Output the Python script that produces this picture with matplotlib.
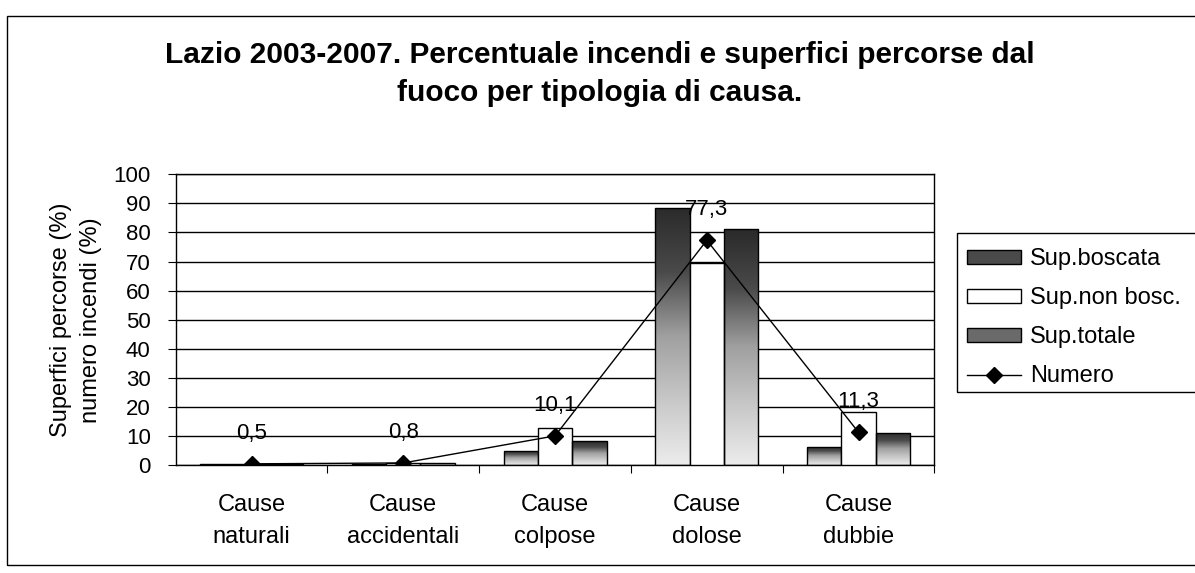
import matplotlib
matplotlib.use("Agg")
import matplotlib.pyplot as plt
import numpy as np
from matplotlib.colors import LinearSegmentedColormap

plt.rcParams['font.family'] = ['Liberation Sans', 'DejaVu Sans']

# data
categorie = ["Cause\nnaturali", "Cause\naccidentali", "Cause\ncolpose", "Cause\ndolose", "Cause\ndubbie"]
sup_boscata = [0.4, 0.6, 5.0, 88.5, 6.2]
sup_non_bosc = [0.5, 0.9, 12.8, 69.5, 18.4]
sup_totale = [0.4, 0.7, 8.2, 81.0, 11.1]
numero = [0.5, 0.8, 10.1, 77.3, 11.3]
etichette = ["0,5", "0,8", "10,1", "77,3", "11,3"]

fig = plt.figure(figsize=(11.95, 5.73), dpi=100)
ax = fig.add_axes([0.147, 0.188, 0.635, 0.508])

x = np.arange(len(categorie))
w = 0.226

grad = LinearSegmentedColormap.from_list("g", ["#ececec", "#c8c8c8", "#a0a0a0", "#4a4a4a", "#2a2a2a"])
img = np.linspace(0, 1, 256).reshape(-1, 1)

def bars_gradient(xpos, vals):
    bars = ax.bar(xpos, vals, w, facecolor="none", edgecolor="black", linewidth=1, zorder=3)
    for b in bars:
        x0, y0 = b.get_x(), b.get_y()
        im = ax.imshow(img, cmap=grad, aspect="auto", origin="lower",
                       extent=(x0, x0 + b.get_width(), y0, y0 + b.get_height()), zorder=2)
        im.set_clip_path(b)
    return bars

b1 = bars_gradient(x - w, sup_boscata)
b2 = ax.bar(x, sup_non_bosc, w, facecolor="white", edgecolor="black", linewidth=1, zorder=3)
b3 = bars_gradient(x + w, sup_totale)

ln, = ax.plot(x, numero, color="black", linewidth=1, marker="D", markersize=8.5, zorder=5)
for xi, yi, t in zip(x, numero, etichette):
    ax.annotate(t, (xi, yi), xytext=(0, 22), textcoords="offset points",
                ha="center", va="center", fontsize=16, zorder=6)

ax.set_xlim(-0.5, 4.5)
ax.set_ylim(0, 100)
ax.set_yticks(range(0, 101, 10))
ax.yaxis.grid(True, color="black", linewidth=1)
ax.set_axisbelow(True)
ax.set_xticks(x + 0.5)
ax.set_xticklabels([])
ax.set_xticks(x, minor=True)
ax.set_xticklabels(categorie, minor=True, fontsize=17, linespacing=1.55)
ax.tick_params(axis="x", which="minor", length=0, pad=21)
ax.tick_params(axis="x", which="major", length=6, direction="out")
ax.tick_params(axis="y", labelsize=16, length=6, direction="out", pad=12)
for s in ax.spines.values():
    s.set_linewidth(1)
ax.set_ylabel("Superfici percorse (%)\nnumero incendi (%)", fontsize=17, linespacing=1.5, labelpad=8)

leg = fig.legend([b1[0], b2[0], b3[0], ln], ["Sup.boscata", "Sup.non bosc.", "Sup.totale", "Numero"],
                 loc="upper left", bbox_to_anchor=(0.801, 0.583), fontsize=17,
                 frameon=False, handlelength=2.3,
                 handleheight=0.5, handletextpad=0.4, labelspacing=0.72, borderpad=0.4,
                 borderaxespad=0)
leg.legend_handles[0].set_facecolor("#4a4a4a")
leg.legend_handles[2].set_facecolor("#6a6a6a")
# cornice della legenda (tagliata a destra come nell'originale)
fig.patches.append(plt.Rectangle((0.801, 0.316), 0.3, 0.277, transform=fig.transFigure,
                                 fill=False, edgecolor="black", linewidth=1))

fig.text(0.502, 0.904, "Lazio 2003-2007. Percentuale incendi e superfici percorse dal",
         ha="center", va="center", fontsize=21.5, fontweight="bold")
fig.text(0.502, 0.838, "fuoco per tipologia di causa.",
         ha="center", va="center", fontsize=21.5, fontweight="bold")

# bordo esterno
fig.patches.append(plt.Rectangle((0.006, 0.014), 1.1, 0.958, transform=fig.transFigure,
                                 fill=False, edgecolor="black", linewidth=1))

fig.savefig("out.png", dpi=100)
